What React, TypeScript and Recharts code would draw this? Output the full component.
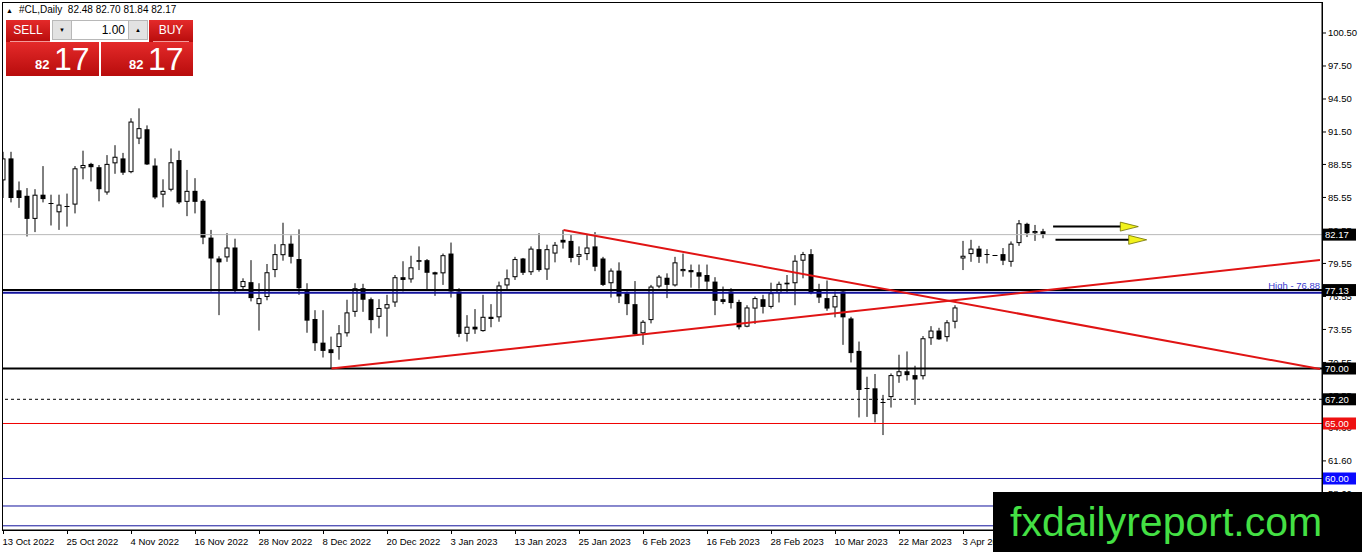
import React from "react";
import {
  Bar,
  ComposedChart,
  ReferenceDot,
  ReferenceLine,
  XAxis,
  YAxis,
} from "recharts";

// Daily OHLC, 13 Oct 2022 .. 14 Apr 2023 (131 sessions)
const opens = [
  87.1, 89.1, 86.2, 85.7, 83.6, 85.8, 85.05, 84.2, 84.75, 84.9, 88.2, 88.6, 88.3, 86.0, 88.65, 89.1,
  87.85, 90.9, 91.75, 88.45, 85.8, 86.25, 88.95, 85.15, 86.15, 85.25, 81.9, 80.0, 80.1, 81.0, 77.4,
  77.85, 75.85, 76.5, 78.95, 80.3, 81.35, 79.95, 77.15, 74.5, 72.35, 71.75, 71.95, 73.2, 75.15, 77.3,
  76.3, 74.7, 75.45, 76.0, 78.3, 78.1, 79.7, 79.85, 78.75, 78.65, 80.45, 77.0, 73.15, 73.8, 73.4,
  74.7, 74.65, 77.55, 78.3, 80.0, 78.75, 80.85, 79.0, 80.45, 81.7, 81.6, 80.15, 80.4, 81.1, 80.0,
  77.75, 78.9, 76.85, 75.85, 73.2, 74.4, 77.45, 78.25, 77.55, 78.85, 78.95, 78.75, 78.5, 77.9, 76.3,
  77.0, 76.05, 73.8, 75.45, 76.3, 75.6, 76.85, 77.65, 77.75, 79.8, 80.4, 77.2, 76.4, 75.55, 77.0,
  74.55, 71.6, 68.25, 68.2, 67.0, 67.4, 69.3, 69.75, 69.4, 69.3, 72.75, 73.45, 72.85, 74.25, 80.0,
  80.4, 80.9, 80.4, 80.3, 80.4, 79.7, 81.4, 83.15, 82.3, 82.48,
];
const highs = [
  89.7, 89.7, 87.0, 86.4, 86.3, 88.4, 85.8, 85.8, 85.9, 88.4, 89.8, 88.7, 88.5, 89.4, 90.3, 89.6,
  92.75, 93.65, 92.1, 89.1, 87.2, 90.0, 89.8, 88.05, 87.3, 85.4, 82.6, 80.2, 82.3, 81.8, 78.2,
  79.85, 77.75, 79.5, 81.3, 83.25, 82.1, 82.65, 77.75, 75.3, 75.3, 72.9, 73.95, 76.25, 77.75, 77.7,
  76.45, 76.3, 76.7, 78.5, 79.75, 80.25, 81.1, 79.95, 78.8, 80.45, 81.45, 77.3, 74.85, 75.4, 76.7,
  75.85, 77.9, 79.0, 80.15, 80.05, 81.1, 82.3, 81.25, 81.5, 82.6, 82.15, 81.1, 82.15, 82.4, 80.15,
  79.1, 79.65, 77.0, 77.95, 74.4, 77.6, 78.5, 78.65, 80.15, 80.45, 79.45, 79.45, 79.45, 78.3, 77.45,
  77.3, 76.25, 75.75, 76.55, 76.7, 77.8, 77.9, 78.5, 80.3, 80.6, 80.85, 77.7, 78.0, 77.0, 77.05,
  74.7, 72.45, 69.25, 69.5, 67.6, 69.55, 71.25, 71.55, 70.25, 72.95, 73.85, 73.7, 74.4, 75.75, 81.6,
  81.7, 81.15, 80.85, 80.32, 80.95, 81.55, 83.5, 83.25, 83.05, 82.7,
];
const lows = [
  85.5, 85.1, 84.6, 82.0, 82.4, 85.1, 83.0, 82.6, 82.9, 84.1, 87.2, 87.0, 85.2, 85.8, 87.7, 87.6,
  87.75, 90.4, 88.5, 85.4, 84.65, 86.1, 84.95, 83.85, 84.1, 81.3, 77.0, 74.85, 79.7, 76.85, 77.1,
  76.1, 73.45, 76.2, 78.3, 79.8, 79.55, 76.7, 73.25, 71.6, 71.0, 70.0, 70.8, 72.9, 74.7, 75.15,
  73.2, 73.65, 72.9, 75.6, 77.0, 77.8, 78.95, 77.1, 76.6, 77.6, 76.45, 72.85, 72.45, 73.15, 73.35,
  73.75, 74.25, 77.15, 78.05, 78.5, 78.5, 78.8, 78.05, 79.65, 80.9, 79.65, 79.4, 79.85, 78.85, 77.5,
  76.45, 75.95, 74.85, 73.05, 72.15, 74.1, 77.3, 76.4, 77.45, 78.35, 77.35, 77.25, 77.15, 74.85, 75.85,
  75.45, 73.55, 73.75, 74.05, 75.0, 75.45, 76.0, 76.85, 75.75, 78.2, 76.75, 75.95, 75.25, 74.65, 72.15,
  70.55, 65.55, 65.6, 65.1, 63.95, 66.45, 68.7, 68.9, 66.7, 69.0, 72.15, 72.6, 72.45, 73.65, 78.95,
  79.7, 79.6, 79.55, 80.28, 79.4, 79.25, 81.15, 81.95, 81.6, 81.84,
];
const closes = [
  89.1, 85.5, 85.5, 83.6, 85.8, 85.4, 84.95, 84.9, 84.85, 88.2, 88.5, 88.3, 86.3, 88.6, 89.25, 87.8,
  92.45, 91.85, 88.55, 85.55, 86.15, 88.75, 85.1, 86.15, 85.15, 81.9, 80.0, 79.65, 81.0, 77.2, 77.95,
  76.4, 76.4, 78.75, 80.4, 81.3, 80.15, 77.3, 74.35, 72.3, 71.6, 71.4, 73.2, 75.1, 77.3, 76.25,
  74.4, 75.5, 75.85, 78.3, 78.05, 79.2, 79.85, 78.7, 78.55, 80.3, 77.0, 73.15, 73.8, 73.55, 74.7,
  74.5, 77.55, 78.2, 79.95, 78.7, 80.9, 78.95, 80.85, 81.25, 81.45, 80.05, 80.4, 81.0, 79.25, 77.6,
  78.9, 76.55, 75.85, 73.1, 74.25, 77.45, 78.35, 77.6, 79.65, 79.05, 78.75, 78.35, 77.9, 76.15, 76.05,
  75.95, 73.75, 75.55, 76.4, 75.6, 76.85, 77.7, 77.8, 79.8, 80.4, 76.85, 76.45, 75.45, 76.6, 74.65,
  71.4, 68.05, 68.15, 65.85, 66.9, 69.4, 69.75, 69.4, 69.0, 72.75, 73.45, 72.65, 74.2, 75.55, 80.25,
  80.9, 80.15, 80.35, 80.3, 79.8, 81.35, 83.2, 82.3, 82.5, 82.17,
];

// bottom axis labels, one every 8 sessions
const dateTicks = [0, 8, 16, 24, 32, 40, 48, 56, 64, 72, 80, 88, 96, 104, 112, 120];
const dateLabels = [
  "13 Oct 2022", "25 Oct 2022", "4 Nov 2022", "16 Nov 2022", "28 Nov 2022", "8 Dec 2022",
  "20 Dec 2022", "3 Jan 2023", "13 Jan 2023", "25 Jan 2023", "6 Feb 2023", "16 Feb 2023",
  "28 Feb 2023", "10 Mar 2023", "22 Mar 2023", "3 Apr 2023",
];

// right axis labels
const priceTicks = [100.5, 97.5, 94.5, 91.5, 88.55, 85.55, 82.55, 79.55, 76.55, 73.55, 70.55, 67.55, 64.6, 61.6, 58.6];

// horizontal levels
const bidPrice = 82.17;
const blackLevels = [77.13, 70.0];
const highLevel = 76.88;
const dashedLevel = 67.2;
const redLevel = 65.0;
const blueLevels = [60.0, 57.5, 55.7];

// trendlines: [session, price]
const trendStart = [[70, 82.6], [41, 70.0]];
const trendEnd = [[164.56, 69.95], [164.56, 79.86]];

// forecast arrows
const arrowFrom = [131.2, 131.5];
const arrowTip = [141.85, 142.9];
const arrowPrice = [82.9, 81.7];

const X_DOMAIN = [-0.125, 164.8125];
const Y_DOMAIN = [55.318, 103.227];
const FONT = "'Liberation Sans', Arial, sans-serif";

// price tags on the right scale, drawn after the plain ticks so they cover them
const tagValues = [bidPrice, blackLevels[0], blackLevels[1], dashedLevel, redLevel, blueLevels[0]];
const tagColor = (v: number) => (v === redLevel ? "#ee1111" : v === blueLevels[0] ? "#0a0aff" : "#000");
const axisTicks = [...priceTicks, ...tagValues];

const data = opens.map((o, i) => ({
  i,
  open: o,
  high: highs[i],
  low: lows[i],
  close: closes[i],
  range: [lows[i], highs[i]],
}));

function Candle(props: any) {
  const { x, y, width, height } = props;
  const i = props.payload?.i ?? props.index;
  const o = opens[i];
  const c = closes[i];
  const h = highs[i];
  const l = lows[i];
  const ppu = h > l ? height / (h - l) : 0;
  const cx = x + width / 2;
  const top = y + (h - Math.max(o, c)) * ppu;
  const bot = y + (h - Math.min(o, c)) * ppu;
  const body = bot - top;
  let bodyEl;
  if (body < 1.3) {
    const my = Math.round((top + bot) / 2) + 0.5;
    bodyEl = <line x1={x} x2={x + width} y1={my} y2={my} stroke="#000" />;
  } else if (c > o) {
    bodyEl = <rect x={x + 0.5} y={top + 0.5} width={width - 1} height={body - 1} fill="#fff" stroke="#000" />;
  } else {
    bodyEl = <rect x={x} y={top} width={width} height={body} fill="#000" />;
  }
  return (
    <g>
      <line x1={cx} x2={cx} y1={y} y2={y + height} stroke="#000" strokeWidth={1} />
      {bodyEl}
    </g>
  );
}

function PriceTick(props: any) {
  const { x, y, payload } = props;
  const v = payload.value;
  const isTag = tagValues.includes(v) && !priceTicks.includes(v);
  if (isTag) {
    const left = x - 5;
    return (
      <g>
        <rect x={left} y={y - 6} width={33} height={12} fill={tagColor(v)} />
        <text x={left + 2} y={y + 3.5} fill="#fff" fontSize={9.5} fontFamily={FONT}>
          {v.toFixed(2)}
        </text>
      </g>
    );
  }
  return (
    <g>
      <line x1={x - 6} x2={x - 2} y1={y} y2={y} stroke="#000" />
      <text x={x} y={y + 3.5} fill="#000" fontSize={9.5} fontFamily={FONT}>
        {v.toFixed(2)}
      </text>
    </g>
  );
}

function HighLabel(props: any) {
  const { viewBox } = props;
  if (!viewBox) return null;
  return (
    <text x={viewBox.x + viewBox.width - 2} y={viewBox.y - 4} textAnchor="end" fill="#3a3ad0" fontSize={9.5} fontFamily={FONT}>
      High - {highLevel.toFixed(2)}
    </text>
  );
}

function DateTick(props: any) {
  const { x, y, payload } = props;
  const k = dateTicks.indexOf(payload.value);
  return (
    <text x={x - 1} y={y} dy={9} textAnchor="start" fill="#000" fontSize={9.5} fontFamily={FONT}>
      {dateLabels[k]}
    </text>
  );
}

function ArrowHead(props: any) {
  const { cx, cy } = props;
  return (
    <polygon
      points={`${cx},${cy} ${cx - 18},${cy - 4.5} ${cx - 18},${cy + 4.5}`}
      fill="#f2f21c"
      stroke="#6e6e00"
      strokeWidth={0.8}
    />
  );
}

const redBox: React.CSSProperties = {
  position: "absolute",
  background: "linear-gradient(#e42a2a, #b80c0c)",
  color: "#fff",
  fontFamily: FONT,
};

export default function App() {
  return (
    <div style={{ position: "relative", width: 1362, height: 552, background: "#fff", overflow: "hidden" }}>
      <style>{"body{margin:0}"}</style>
      <ComposedChart
        width={1362}
        height={552}
        data={data}
        margin={{ top: 3, right: 0, bottom: 0, left: 2.5 }}
      >
        <XAxis
          dataKey="i"
          type="number"
          domain={X_DOMAIN}
          allowDataOverflow
          ticks={dateTicks}
          tick={<DateTick />}
          tickSize={4}
          tickMargin={2}
          height={22}
          stroke="#000"
          interval={0}
        />
        <YAxis
          orientation="right"
          type="number"
          domain={Y_DOMAIN}
          allowDataOverflow
          ticks={axisTicks}
          tick={<PriceTick />}
          tickLine={false}
          tickSize={4}
          tickMargin={2}
          width={40}
          stroke="#000"
          interval={0}
        />
        <Bar dataKey="range" barSize={5} shape={<Candle />} isAnimationActive={false} />

        <ReferenceLine y={bidPrice} stroke="#b8b8b8" />
        {blueLevels.map((v) => (
          <ReferenceLine key={"b" + v} y={v} stroke="#12129c" ifOverflow="visible" />
        ))}
        <ReferenceLine y={redLevel} stroke="#f00000" />
        <ReferenceLine y={dashedLevel} stroke="#000" strokeDasharray="3 3" />
        <ReferenceLine y={highLevel} stroke="#12129c" strokeWidth={2} label={<HighLabel />} />
        {blackLevels.map((v) => (
          <ReferenceLine key={"k" + v} y={v} stroke="#000" strokeWidth={2} />
        ))}

        {trendStart.map((s, k) => (
          <ReferenceLine
            key={"t" + k}
            segment={[
              { x: s[0], y: s[1] },
              { x: trendEnd[k][0], y: trendEnd[k][1] },
            ]}
            stroke="#e01414"
            strokeWidth={2}
            ifOverflow="visible"
          />
        ))}

        {arrowFrom.map((a, k) => (
          <ReferenceLine
            key={"a" + k}
            segment={[
              { x: a, y: arrowPrice[k] },
              { x: arrowTip[k] - 1.5, y: arrowPrice[k] },
            ]}
            stroke="#000"
            strokeWidth={2}
            ifOverflow="visible"
          />
        ))}
        {arrowTip.map((t, k) => (
          <ReferenceDot key={"h" + k} x={t} y={arrowPrice[k]} shape={<ArrowHead />} ifOverflow="visible" />
        ))}
      </ComposedChart>

      {/* chart frame */}
      <div style={{ position: "absolute", left: 2, top: 2, width: 1319, height: 527, border: "1px solid #000", pointerEvents: "none" }} />

      {/* symbol header */}
      <div style={{ position: "absolute", left: 6, top: 4, fontFamily: FONT, fontSize: 10, color: "#000", whiteSpace: "pre" }}>
        <span style={{ fontSize: 7, marginRight: 6 }}>▲</span>#CL,Daily  82.48 82.70 81.84 82.17
      </div>

      {/* one-click trading panel */}
      <div style={{ ...redBox, left: 6, top: 20, width: 44, height: 22, fontSize: 12, lineHeight: "21px", textAlign: "center" }}>
        SELL
        <div style={{ position: "absolute", left: 4, right: 0, bottom: 0, height: 1, background: "#f39a9a" }} />
      </div>
      <div style={{ ...redBox, left: 149, top: 20, width: 44, height: 22, fontSize: 12, lineHeight: "21px", textAlign: "center" }}>
        BUY
        <div style={{ position: "absolute", left: 4, right: 4, bottom: 0, height: 1, background: "#f39a9a" }} />
      </div>
      <div style={{ position: "absolute", left: 52, top: 20, width: 20, height: 20, background: "#e2e2e2", border: "1px solid #b8b8b8", boxSizing: "border-box", fontSize: 6, textAlign: "center", lineHeight: "18px", fontFamily: FONT }}>▼</div>
      <div style={{ position: "absolute", left: 72, top: 20, width: 56, height: 20, background: "#fff", borderTop: "1px solid #b8b8b8", borderBottom: "1px solid #b8b8b8", boxSizing: "border-box", fontSize: 12, textAlign: "right", lineHeight: "18px", paddingRight: 3, fontFamily: FONT }}>1.00</div>
      <div style={{ position: "absolute", left: 128, top: 20, width: 20, height: 20, background: "#e2e2e2", border: "1px solid #b8b8b8", boxSizing: "border-box", fontSize: 6, textAlign: "center", lineHeight: "18px", fontFamily: FONT }}>▲</div>
      <div style={{ ...redBox, left: 6, top: 42, width: 93, height: 34 }}>
        <span style={{ position: "absolute", left: 29, top: 15, fontSize: 13, fontWeight: "bold" }}>82</span>
        <span style={{ position: "absolute", left: 48, top: -1, fontSize: 32 }}>17</span>
      </div>
      <div style={{ ...redBox, left: 101, top: 42, width: 92, height: 34 }}>
        <span style={{ position: "absolute", left: 28, top: 15, fontSize: 13, fontWeight: "bold" }}>82</span>
        <span style={{ position: "absolute", left: 47, top: -1, fontSize: 32 }}>17</span>
      </div>

      {/* watermark */}
      <div style={{ position: "absolute", left: 993, top: 492, width: 369, height: 60, background: "#000", color: "#44e044", fontFamily: FONT, fontSize: 41, lineHeight: "60px", paddingLeft: 17, boxSizing: "border-box", whiteSpace: "nowrap" }}>
        fxdailyreport.com
      </div>
    </div>
  );
}
